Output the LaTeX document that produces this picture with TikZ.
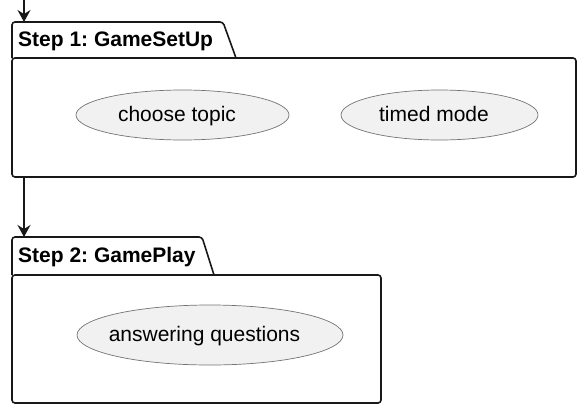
\documentclass[tikz,border=0pt]{standalone}
\usepackage{fontspec}
\setmainfont{Liberation Sans}
\usetikzlibrary{arrows.meta,shapes,positioning}
\definecolor{ucfill}{HTML}{F1F1F1}
\definecolor{pkline}{HTML}{181818}

\begin{document}
\begin{tikzpicture}[x=1pt,y=-1pt,>={Stealth[length=12pt,width=13pt,inset=4pt]},
	pkg/.style={draw=pkline,line width=1.6pt,rounded corners=3pt},
	pkg body/.style={pkg,rectangle,inner sep=0pt},
	tab label/.style={anchor=base west,inner sep=0pt,font=\fontsize{21}{25}\selectfont\bfseries},
	use case/.style={ellipse,draw=black!55,line width=0.7pt,fill=ucfill,inner xsep=-40pt,inner ysep=0pt,
		text height=15pt,text depth=2pt,font=\fontsize{21}{25}\selectfont,
		execute at end node={\kern11pt}}]
	\useasboundingbox (0,0) rectangle (586,418);
	\frenchspacing

	% Step 1
	\node[pkg body,minimum width=564pt,minimum height=119pt] (body1) at (294,117.5) {};
	\draw[pkg] (12,58) |- (223,22) -- (236,58);
	\node[tab label] (tab1) at (18,46) {Step 1: GameSetUp};
	\node[use case,minimum width=213pt,minimum height=50pt] (topic) at (182.5,115) {choose topic};
	\node[use case,minimum width=197pt,minimum height=50pt] (timed) at (439.5,115) {timed mode};

	% Step 2
	\node[pkg body,minimum width=369pt,minimum height=128pt] (body2) at (196.5,339) {};
	\draw[pkg] (12,275) |- (202,237) -- (214,275);
	\node[tab label] (tab2) at (18,262) {Step 2: GamePlay};
	\node[use case,minimum width=266pt,minimum height=60pt] (answer) at (210,335) {answering questions};

	% flow
	\coordinate (start) at (24,0);
	\coordinate (in1) at (24,22);
	\coordinate (out1) at (24,177);
	\coordinate (in2) at (24,237);
	\path[every edge/.style={draw=pkline,line width=1.2pt,->}]
	(start) edge (in1)
	(out1) edge (in2);

\end{tikzpicture}
\end{document}
